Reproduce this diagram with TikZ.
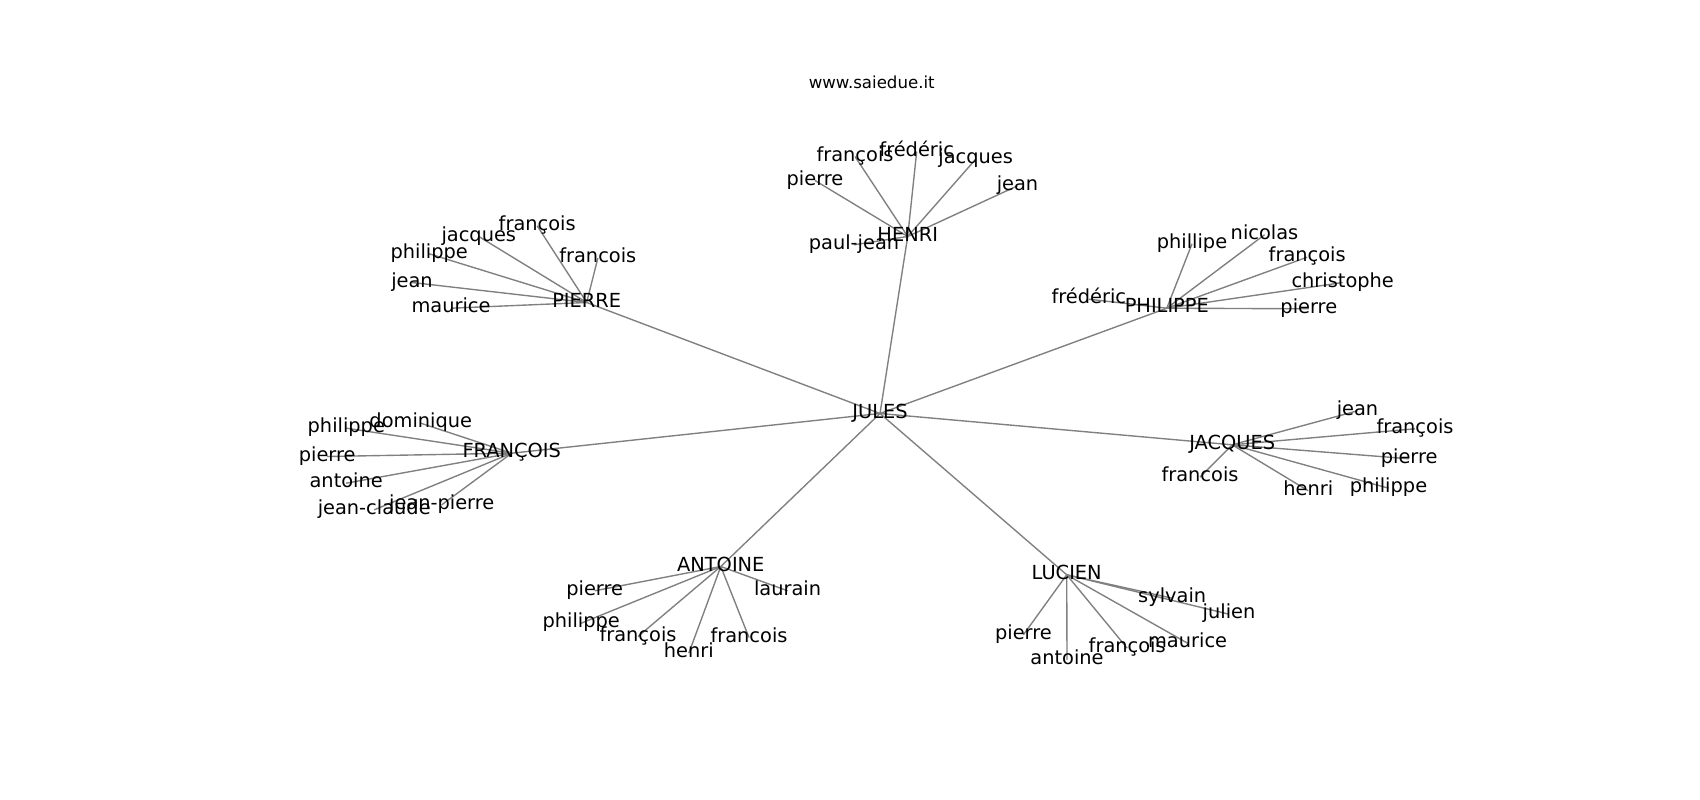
\documentclass[tikz,border=0pt]{standalone}
\usepackage{fontspec}
\setmainfont{DejaVu Sans}
\usetikzlibrary{backgrounds}
\tikzset{
  lbl/.style={inner sep=0pt, outer sep=0pt, text height=0.67em, text depth=0pt, font=\fontsize{14}{16}\selectfont, text=black},
  ttl/.style={inner sep=0pt, outer sep=0pt, anchor=base, font=\fontsize{12}{14}\selectfont, text=black},
  edge/.style={draw=gray, line width=1pt}
}
\begin{document}
\begin{tikzpicture}[x={(0.01in,0)}, y={(0,-0.01in)}]
\useasboundingbox (0,0) rectangle (1700,800);
\node[ttl] (title) at (871.7,88.3) {www.saiedue.it};
\begin{scope}[shift={(0,3)}]
% hubs
\node[lbl] (jules) at (880,410.5) {JULES};
\node[lbl] (henri) at (907.7,233.5) {HENRI};
\node[lbl] (pierre) at (586.7,299.5) {PIERRE};
\node[lbl] (francoisH) at (511.7,450.2) {FRANÇOIS};
\node[lbl] (philippe) at (1166.8,305.2) {PHILIPPE};
\node[lbl] (jacques) at (1232.2,441.8) {JACQUES};
\node[lbl] (antoine) at (720.8,563.5) {ANTOINE};
\node[lbl] (lucien) at (1066.7,571.8) {LUCIEN};
% HENRI leaves
\node[lbl] (hpierre) at (815,177.5) {pierre};
\node[lbl] (hfrancoisc) at (855,153.5) {françois};
\node[lbl] (hfrederic) at (916.7,148.5) {frédéric};
\node[lbl] (hjacques) at (975.7,156.2) {jacques};
\node[lbl] (hjean) at (1017.5,182.8) {jean};
\node[lbl] (hpauljean) at (854,241.8) {paul-jean};
% PIERRE leaves
\node[lbl] (pfrancoisc) at (537.2,222.8) {françois};
\node[lbl] (pjacques) at (478.8,233.5) {jacques};
\node[lbl] (pphilippe) at (429.2,250.8) {philippe};
\node[lbl] (pfrancois) at (597.8,255.2) {francois};
\node[lbl] (pjean) at (412,279.5) {jean};
\node[lbl] (pmaurice) at (451,305.2) {maurice};
% FRANCOIS leaves
\node[lbl] (fdominique) at (420.8,420.2) {dominique};
\node[lbl] (fphilippe) at (346.3,425.2) {philippe};
\node[lbl] (fpierre) at (327.2,453.5) {pierre};
\node[lbl] (fantoine) at (346.2,480.2) {antoine};
\node[lbl] (fjeanclaude) at (374.2,506.8) {jean-claude};
\node[lbl] (fjeanpierre) at (441.7,501.8) {jean-pierre};
% PHILIPPE leaves
\node[lbl] (phphillipe) at (1192,240.8) {phillipe};
\node[lbl] (phnicolas) at (1264.5,231.8) {nicolas};
\node[lbl] (phfrancoisc) at (1307.2,254.2) {françois};
\node[lbl] (phchristophe) at (1342.7,279.5) {christophe};
\node[lbl] (phfrederic) at (1088.8,296.2) {frédéric};
\node[lbl] (phpierre) at (1308.8,305.8) {pierre};
% JACQUES leaves
\node[lbl] (jjean) at (1357.5,407.8) {jean};
\node[lbl] (jfrancoisc) at (1415,425.8) {françois};
\node[lbl] (jpierre) at (1409.2,455.8) {pierre};
\node[lbl] (jfrancois) at (1200,474.2) {francois};
\node[lbl] (jhenri) at (1308.3,487.8) {henri};
\node[lbl] (jphilippe) at (1388.5,485.2) {philippe};
% ANTOINE leaves
\node[lbl] (apierre) at (594.7,587.8) {pierre};
\node[lbl] (alaurain) at (787.6,587.8) {laurain};
\node[lbl] (aphilippe) at (581.2,620.2) {philippe};
\node[lbl] (afrancoisc) at (638,633.5) {françois};
\node[lbl] (afrancois) at (749,634.5) {francois};
\node[lbl] (ahenri) at (688.8,650.2) {henri};
% LUCIEN leaves
\node[lbl] (lsylvain) at (1172.2,595.2) {sylvain};
\node[lbl] (ljulien) at (1229,611.2) {julien};
\node[lbl] (lpierre) at (1023.4,631.8) {pierre};
\node[lbl] (lmaurice) at (1187.6,640.2) {maurice};
\node[lbl] (lfrancoisc) at (1127.2,645.2) {françois};
\node[lbl] (lantoine) at (1067,656.8) {antoine};
\end{scope}
\begin{pgfonlayer}{background}
\foreach \a/\b in {jules/henri,jules/pierre,jules/francoisH,jules/philippe,jules/jacques,jules/antoine,jules/lucien,
  henri/hpierre,henri/hfrancoisc,henri/hfrederic,henri/hjacques,henri/hjean,henri/hpauljean,
  pierre/pfrancoisc,pierre/pjacques,pierre/pphilippe,pierre/pfrancois,pierre/pjean,pierre/pmaurice,
  francoisH/fdominique,francoisH/fphilippe,francoisH/fpierre,francoisH/fantoine,francoisH/fjeanclaude,francoisH/fjeanpierre,
  philippe/phphillipe,philippe/phnicolas,philippe/phfrancoisc,philippe/phchristophe,philippe/phfrederic,philippe/phpierre,
  jacques/jjean,jacques/jfrancoisc,jacques/jpierre,jacques/jfrancois,jacques/jhenri,jacques/jphilippe,
  antoine/apierre,antoine/alaurain,antoine/aphilippe,antoine/afrancoisc,antoine/afrancois,antoine/ahenri,
  lucien/lsylvain,lucien/ljulien,lucien/lpierre,lucien/lmaurice,lucien/lfrancoisc,lucien/lantoine}
  \draw[edge] (\a.center) -- (\b.center);
\end{pgfonlayer}
\end{tikzpicture}
\end{document}
